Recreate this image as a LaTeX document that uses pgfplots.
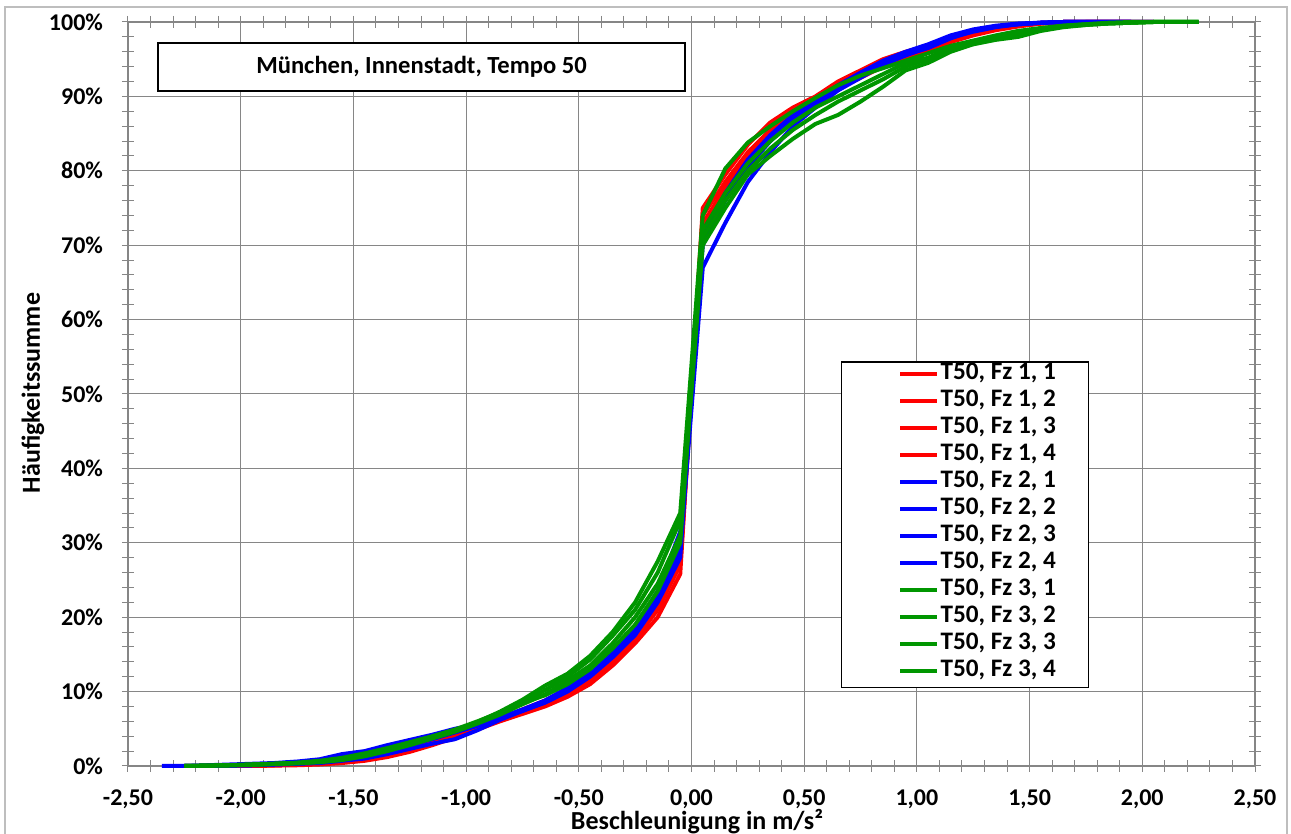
\documentclass[border=0pt]{standalone}
\usepackage{pgfplots}
\pgfplotsset{compat=1.18}
\usepackage{pgfplotstable}
\usepackage{fontspec}
\setmainfont{Carlito}

\definecolor{myred}{RGB}{255,0,0}
\definecolor{myblue}{RGB}{0,0,255}
\definecolor{mygreen}{RGB}{0,150,0}
\definecolor{gridgray}{RGB}{134,134,134}
\definecolor{framegray}{RGB}{190,190,190}
\newcommand{\tickfont}{\bfseries\fontsize{12}{14}\selectfont}
\newcommand{\lblfont}{\bfseries\fontsize{13}{15}\selectfont}
\newcommand{\legfont}{\bfseries\fontsize{12.6}{14}\selectfont}
\newcommand{\titfont}{\bfseries\fontsize{12.3}{14}\selectfont}

\pgfplotstableread{
x     r1   r2   r3   r4   b1   b2   b3   b4   g1   g2   g3   g4
-2.35 nan  nan  nan  nan  0    nan  nan  nan  nan  nan  nan  nan
-2.25 nan  nan  0    nan  0    0    0    nan  0    0    0    0
-2.15 0    0    0    0    0.1  0    0.05 0    0.05 0.05 0.05 0.05
-2.05 0    0    0.05 0    0.2  0.05 0.1  0.05 0.1  0.1  0.1  0.1
-1.95 0    0.05 0.1  0    0.3  0.1  0.2  0.1  0.2  0.2  0.15 0.2
-1.85 0.05 0.1  0.2  0.1  0.4  0.2  0.3  0.2  0.3  0.3  0.25 0.3
-1.75 0.1  0.2  0.3  0.2  0.6  0.3  0.4  0.3  0.4  0.4  0.35 0.45
-1.65 0.2  0.35 0.5  0.3  0.9  0.4  0.6  0.5  0.6  0.6  0.5  0.7
-1.55 0.4  0.6  0.8  0.5  1.6  0.7  1.0  0.8  1.0  0.9  0.8  1.1
-1.45 0.7  1.0  1.3  0.9  2.0  1.0  1.6  1.3  1.6  1.4  1.3  1.7
-1.35 1.2  1.6  1.9  1.5  2.8  1.6  2.3  2.0  2.3  2.1  2.0  2.4
-1.25 1.9  2.3  2.7  2.2  3.5  2.3  3.1  2.8  3.1  2.9  2.8  3.2
-1.15 2.8  3.2  3.5  3.0  4.2  3.0  3.9  3.6  3.9  3.8  3.7  4.0
-1.05 3.8  4.1  4.4  4.0  5.0  3.6  4.7  4.5  4.8  4.7  4.6  4.9
-0.95 4.9  5.1  5.3  5.0  5.6  4.8  5.5  5.4  5.9  5.8  5.7  6.0
-0.85 6.0  6.2  6.4  6.1  6.5  6.2  6.5  6.4  7.3  7.0  6.9  7.2
-0.75 7.0  7.3  7.6  7.2  7.5  7.4  7.6  7.4  8.9  8.5  8.3  8.5
-0.65 8.0  8.5  8.8  8.3  8.6  8.6  8.8  8.5  10.8 10.2 9.6  9.5
-0.55 9.3  10.0 10.4 9.8  10.2 10.3 10.5 10.0 12.4 12.0 11.5 11.0
-0.45 11.0 11.8 12.3 11.5 12.2 12.3 12.7 12.0 14.8 14.3 13.5 13.0
-0.35 13.5 14.3 15.0 14.0 14.8 15.0 15.4 14.6 18.0 17.5 16.5 15.8
-0.25 16.5 17.5 18.2 17.0 18.0 18.3 18.8 17.6 22.0 21.0 20.0 19.0
-0.15 20.0 21.5 22.5 21.0 22.5 23.0 23.5 22.0 27.5 26.0 24.5 23.5
-0.05 25.8 27.5 29.0 27.0 29.0 30.5 31.5 28.0 34.0 33.0 31.0 30.0
0.05  75.0 74.0 73.0 72.5 67.0 70.0 71.0 72.0 74.0 71.0 70.0 72.0
0.15  79.5 78.5 77.5 78.0 73.0 76.0 77.0 76.5 80.3 76.0 75.0 77.0
0.25  83.5 82.5 81.5 82.0 78.5 80.5 81.5 80.8 83.8 80.0 79.5 81.0
0.35  86.5 85.5 84.8 85.0 82.5 84.0 84.8 84.3 86.0 83.0 82.0 84.0
0.45  88.5 88.0 87.5 87.8 86.0 87.0 87.5 87.2 88.0 85.5 84.3 86.5
0.55  90.0 89.8 89.5 89.6 88.5 89.2 89.5 89.0 89.8 87.5 86.3 88.5
0.65  92.0 91.5 91.0 91.2 90.8 91.3 91.5 91.0 91.5 89.3 87.5 90.0
0.75  93.5 93.2 92.5 92.8 92.5 93.0 93.2 92.8 92.8 90.8 89.3 91.5
0.85  95.0 94.5 94.0 94.2 94.2 94.6 94.8 94.3 93.8 92.3 91.3 93.0
0.95  96.0 95.5 95.2 95.3 95.6 95.8 96.0 95.5 94.8 94.0 93.5 94.5
1.05  96.8 96.5 96.2 96.3 96.5 96.8 97.0 96.6 95.8 95.0 94.5 95.2
1.15  97.8 97.5 97.3 97.4 97.8 98.0 98.2 97.9 96.8 96.2 96.0 96.5
1.25  98.6 98.4 98.2 98.3 98.8 98.9 99.0 98.7 97.5 97.2 97.0 97.4
1.35  99.2 99.0 98.9 99.0 99.4 99.4 99.5 99.3 98.2 97.8 97.6 98.0
1.45  99.6 99.5 99.4 99.5 99.7 99.7 99.8 99.7 98.8 98.4 98.0 98.6
1.55  99.9 99.8 99.8 99.8 99.9 99.9 99.9 99.9 99.2 99.0 98.8 99.1
1.65  100  100  99.9 100  100  100  100  100  99.5 99.4 99.3 99.5
1.75  100  100  100  100  100  100  100  100  99.7 99.6 99.6 99.7
1.85  100  100  100  100  100  100  100  100  99.8 99.8 99.8 99.9
1.95  100  100  100  100  100  100  100  100  99.9 99.9 99.9 100
2.05  100  nan  100  nan  100  100  nan  nan  100  100  100  100
2.15  nan  nan  nan  nan  nan  nan  nan  nan  100  100  100  100
2.25  nan  nan  nan  nan  nan  nan  nan  nan  100  100  100  100
}\datatable

\begin{document}
\begin{tikzpicture}
\useasboundingbox (-64pt,-34pt) rectangle (581.5pt,383pt);
\draw[framegray, line width=0.6pt] (-61.5pt,-40pt) -- (-61.5pt,379.5pt) -- (579.5pt,379.5pt) -- (579.5pt,-40pt);
\begin{axis}[
  at={(0pt,0pt)}, anchor=south west,
  width=563.5pt, height=372pt, scale only axis,
  xmin=-2.5, xmax=2.5, ymin=0, ymax=100,
  xtick={-2.5,-2,...,2.5}, ytick={0,10,...,100},
  minor x tick num=4, minor y tick num=4,
  grid=major, major grid style={gridgray, line width=0.5pt},
  axis line style={gridgray, line width=0.6pt},
  tick style={gridgray, line width=0.5pt},
  tick align=center, major tick length=6pt, minor tick length=6pt,
  /pgf/number format/assume math mode=true,
  tick label style={font=\tickfont, black},
  xticklabel style={yshift=-7.5pt, inner sep=1pt, /pgf/number format/.cd, fixed, fixed zerofill, precision=2, use comma, 1000 sep={}},
  yticklabel={\pgfmathprintnumber{\tick}\%},
  yticklabel style={xshift=-6pt},
  clip=false,
  legend style={at={(rel axis cs:0.754,0.327)}, anchor=center, draw=none, fill=none,
    font=\legfont, row sep=3.5pt,
    nodes={inner xsep=0.8pt, inner ysep=0pt, text height=7.5pt, text depth=2.5pt}},
  legend cell align=left,
  legend image code/.code={\draw[#1, line width=2pt] (0pt,0pt) -- (18.5pt,0pt);},
  every axis plot/.append style={line width=2pt, line join=round},
]
\draw[fill=white, draw=black, line width=0.6pt] (rel axis cs:0.633,0.105) rectangle (rel axis cs:0.852,0.543);
\addplot[myred] table[x=x, y=r1] {\datatable};
\addplot[myred] table[x=x, y=r2] {\datatable};
\addplot[myred] table[x=x, y=r3] {\datatable};
\addplot[myred] table[x=x, y=r4] {\datatable};
\addplot[myblue] table[x=x, y=b1] {\datatable};
\addplot[myblue] table[x=x, y=b2] {\datatable};
\addplot[myblue] table[x=x, y=b3] {\datatable};
\addplot[myblue] table[x=x, y=b4] {\datatable};
\addplot[mygreen] table[x=x, y=g1] {\datatable};
\addplot[mygreen] table[x=x, y=g2] {\datatable};
\addplot[mygreen] table[x=x, y=g3] {\datatable};
\addplot[mygreen] table[x=x, y=g4] {\datatable};
\legend{{T50, Fz 1, 1},{T50, Fz 1, 2},{T50, Fz 1, 3},{T50, Fz 1, 4},
        {T50, Fz 2, 1},{T50, Fz 2, 2},{T50, Fz 2, 3},{T50, Fz 2, 4},
        {T50, Fz 3, 1},{T50, Fz 3, 2},{T50, Fz 3, 3},{T50, Fz 3, 4}}
\end{axis}
\node[draw=black, fill=white, line width=0.6pt, minimum width=263.5pt, minimum height=24pt, inner sep=0pt, font=\titfont] at (146.75pt,349.5pt) {München, Innenstadt, Tempo 50};
\node[font=\lblfont, inner sep=0pt] at (284.5pt,-28pt) {Beschleunigung in m/s²};
\node[font=\lblfont, rotate=90, inner sep=0pt] at (-47.5pt,186.5pt) {Häufigkeitssumme};
\end{tikzpicture}
\end{document}
